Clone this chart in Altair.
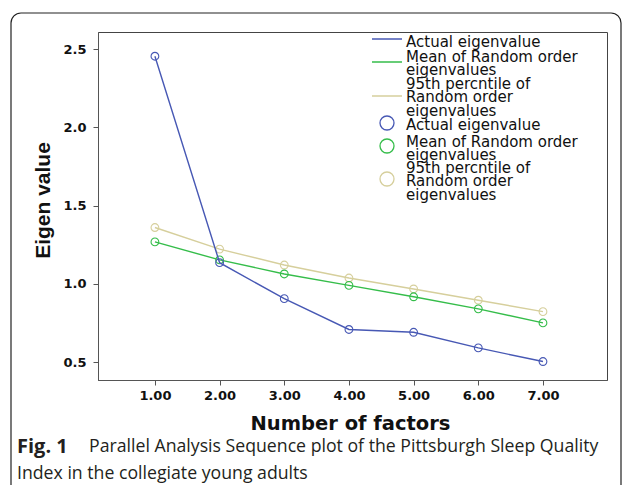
import altair as alt
import pandas as pd

factors = [1, 2, 3, 4, 5, 6, 7]
actual = [2.455, 1.135, 0.905, 0.708, 0.690, 0.590, 0.503]
mean_random = [1.268, 1.153, 1.063, 0.990, 0.917, 0.840, 0.750]
pct95 = [1.360, 1.222, 1.120, 1.037, 0.967, 0.895, 0.822]

series_names = ["Actual eigenvalue", "Mean of Random order eigenvalues",
                "95th percntile of Random order eigenvalues"]
series_values = [actual, mean_random, pct95]
colors = ["#4758b4", "#35bd4a", "#d6cf9c"]

x_ticks = [1, 2, 3, 4, 5, 6, 7]
y_ticks = [0.5, 1.0, 1.5, 2.0, 2.5]
x_title = "Number of factors"
y_title = "Eigen value"

legend_labels = [["Actual eigenvalue"],
                 ["Mean of Random order", "eigenvalues"],
                 ["95th percntile of", "Random order", "eigenvalues"]]
caption_bold = "Fig. 1"
caption_line1 = "Parallel Analysis Sequence plot of the Pittsburgh Sleep Quality"
caption_line2 = "Index in the collegiate young adults"

rows = []
for name, vals in zip(series_names, series_values):
    for f, v in zip(factors, vals):
        rows.append({"factor": f, "value": v, "series": name})
df = pd.DataFrame(rows)

W, H = 509, 348
xs = alt.Scale(domain=[0.12, 7.99], nice=False, zero=False)
ys = alt.Scale(domain=[0.385, 2.61], nice=False, zero=False)

x_axis = alt.Axis(values=x_ticks, format=".2f", title=x_title, grid=False,
                  labelFont="DejaVu Sans", labelFontWeight="bold", labelFontSize=13,
                  labelColor="#111", tickSize=5, tickColor="#555", domainColor="#555",
                  labelPadding=4, titleFont="DejaVu Sans", titleFontWeight="bold",
                  titleFontSize=19.5, titleColor="#111", titleX=252, titleY=43,
                  titleBaseline="middle", titleAlign="center")
y_axis = alt.Axis(values=y_ticks, format=".1f", title=y_title, grid=False,
                  labelFont="DejaVu Sans", labelFontWeight="bold", labelFontSize=13,
                  labelColor="#111", tickSize=5, tickColor="#555", domainColor="#555",
                  labelPadding=7, titleFont="Liberation Sans", titleFontWeight="bold",
                  titleFontSize=21, titleColor="#111", titleX=-55, titleY=168,
                  titleBaseline="middle", titleAlign="center", titleAngle=270)

one = pd.DataFrame({"a": [0]})
layers = []

# outer figure border
layers.append(alt.Chart(one).mark_rect(fillOpacity=0, stroke="#222", strokeWidth=1.2,
                                       cornerRadius=10).encode(
    x=alt.value(-87), x2=alt.value(523), y=alt.value(-19), y2=alt.value(480)))

# data series, drawn tan, green, blue (blue on top)
for i in [2, 1, 0]:
    sub = df[df["series"] == series_names[i]]
    c = colors[i]
    layers.append(alt.Chart(sub).mark_line(strokeWidth=1.4, color=c).encode(
        x=alt.X("factor:Q", scale=xs, axis=x_axis),
        y=alt.Y("value:Q", scale=ys, axis=y_axis)))
    layers.append(alt.Chart(sub).mark_point(shape="circle", filled=False, size=60,
                                            strokeWidth=1.1, color=c, opacity=1).encode(
        x=alt.X("factor:Q", scale=xs, axis=x_axis),
        y=alt.Y("value:Q", scale=ys, axis=y_axis)))

# custom legend
line_y = [7, 30, 64]
text_y_lines = [2.55, 17.55, 44.55]
circle_y = [91, 114, 147]
text_y_circles = [85.55, 102.55, 128.55]
for i in range(3):
    layers.append(alt.Chart(one).mark_rule(strokeWidth=1.5, color=colors[i]).encode(
        x=alt.value(274), x2=alt.value(304), y=alt.value(line_y[i])))
    layers.append(alt.Chart(one).mark_text(align="left", baseline="top", font="DejaVu Sans",
                                           fontSize=15, lineHeight=13.5, color="#111").encode(
        x=alt.value(308), y=alt.value(text_y_lines[i]), text=alt.value(legend_labels[i])))
for i in range(3):
    layers.append(alt.Chart(one).mark_point(shape="circle", filled=False, size=196,
                                            strokeWidth=1.3, color=colors[i], opacity=1).encode(
        x=alt.value(289), y=alt.value(circle_y[i])))
    layers.append(alt.Chart(one).mark_text(align="left", baseline="top", font="DejaVu Sans",
                                           fontSize=15, lineHeight=13.5, color="#111").encode(
        x=alt.value(308), y=alt.value(text_y_circles[i]), text=alt.value(legend_labels[i])))

# caption
layers.append(alt.Chart(one).mark_text(align="left", baseline="middle", font="Open Sans",
                                       fontSize=20, fontWeight="bold", color="#231f20").encode(
    x=alt.value(-81), y=alt.value(415), text=alt.value(caption_bold)))
layers.append(alt.Chart(one).mark_text(align="left", baseline="middle", font="Open Sans",
                                       fontSize=17.7, color="#231f20").encode(
    x=alt.value(-9), y=alt.value(415), text=alt.value(caption_line1)))
layers.append(alt.Chart(one).mark_text(align="left", baseline="middle", font="Open Sans",
                                       fontSize=17.7, color="#231f20").encode(
    x=alt.value(-81), y=alt.value(442), text=alt.value(caption_line2)))

chart = alt.layer(*layers).properties(
    width=W, height=H,
    autosize=alt.AutoSizeParams(type="none"),
    padding={"left": 90, "top": 24, "right": 15, "bottom": 105},
    background="white",
).configure_view(stroke="#444", strokeWidth=1)

chart.save("out.html", embed_options={"renderer": "svg", "actions": False})
